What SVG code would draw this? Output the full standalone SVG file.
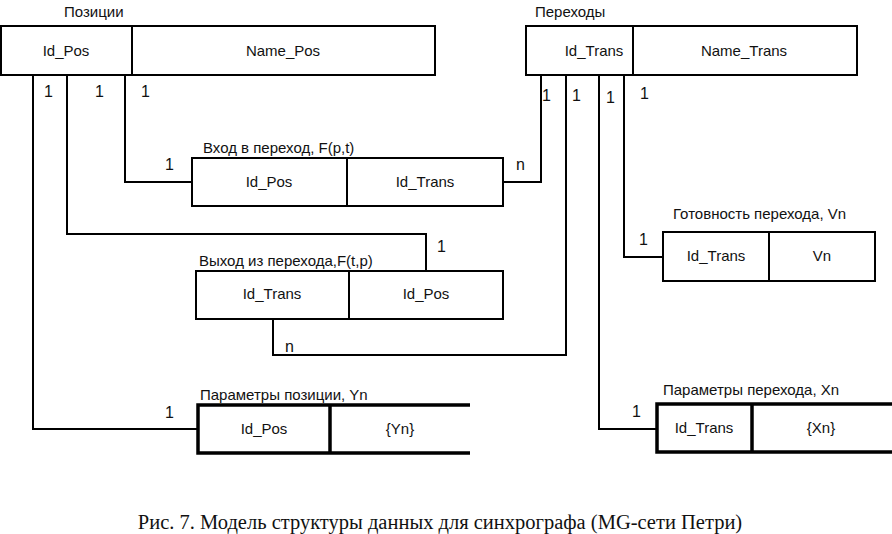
<svg xmlns="http://www.w3.org/2000/svg" width="892" height="534" viewBox="0 0 892 534">
<style>
.box{fill:#fff;stroke:#000;stroke-width:2}
.thick{fill:none;stroke:#000;stroke-width:3.5}
.conn{fill:none;stroke:#000;stroke-width:2}
.t{font-family:"Liberation Sans",Arial,sans-serif;font-size:15px;fill:#111}
.n{font-size:16px}
.c{text-anchor:middle}
.cap{font-family:"Liberation Serif","Times New Roman",serif;font-size:20.5px;fill:#111}
</style>
<rect width="892" height="534" fill="#fff"/>
<g id="connectors">
<polyline class="conn" points="33,75 33,429 198,429"/>
<polyline class="conn" points="67,75 67,234 426,234 426,271"/>
<polyline class="conn" points="125,75 125,182 192,182"/>
<polyline class="conn" points="541,75 541,182 503,182"/>
<polyline class="conn" points="566,75 566,355 273,355 273,319"/>
<polyline class="conn" points="599,75 599,429 657,429"/>
<polyline class="conn" points="624,75 624,257 663,257"/>
<text class="t n" x="44" y="97">1</text>
<text class="t n" x="95" y="97">1</text>
<text class="t n" x="141" y="97">1</text>
<text class="t n" x="165" y="170">1</text>
<text class="t n" x="516" y="170">n</text>
<text class="t n" x="542" y="101">1</text>
<text class="t n" x="572" y="101">1</text>
<text class="t n" x="606" y="103">1</text>
<text class="t n" x="640" y="99">1</text>
<text class="t n" x="437" y="252">1</text>
<text class="t n" x="285" y="352">n</text>
<text class="t n" x="165" y="418">1</text>
<text class="t n" x="632" y="417">1</text>
<text class="t n" x="639" y="245">1</text>
</g>
<g id="positions">
<text class="t" x="64" y="17">Позиции</text>
<rect class="box" x="1" y="26" width="434" height="49"/>
<line class="conn" x1="132" y1="26" x2="132" y2="75"/>
<text class="t c" x="66" y="56">Id_Pos</text>
<text class="t c" x="283" y="56">Name_Pos</text>
</g>
<g id="transitions">
<text class="t" x="535" y="17">Переходы</text>
<rect class="box" x="526" y="26" width="331" height="49"/>
<line class="conn" x1="633" y1="26" x2="633" y2="75"/>
<text class="t c" x="594" y="56">Id_Trans</text>
<text class="t c" x="744" y="56">Name_Trans</text>
</g>
<g id="input">
<text class="t" x="203" y="153">Вход в переход, F(p,t)</text>
<rect class="box" x="192" y="158" width="311" height="48"/>
<line class="conn" x1="347" y1="158" x2="347" y2="206"/>
<text class="t c" x="269" y="187">Id_Pos</text>
<text class="t c" x="425" y="187">Id_Trans</text>
</g>
<g id="output">
<text class="t" x="199" y="266">Выход из перехода,F(t,p)</text>
<rect class="box" x="196" y="271" width="307" height="48"/>
<line class="conn" x1="349" y1="271" x2="349" y2="319"/>
<text class="t c" x="272" y="299">Id_Trans</text>
<text class="t c" x="426" y="299">Id_Pos</text>
</g>
<g id="readiness">
<text class="t" x="673" y="219">Готовность перехода, Vn</text>
<rect class="box" x="663" y="232" width="212" height="49"/>
<line class="conn" x1="769" y1="232" x2="769" y2="281"/>
<text class="t c" x="716" y="261">Id_Trans</text>
<text class="t c" x="822" y="261">Vn</text>
</g>
<g id="posparams">
<text class="t" x="200" y="400">Параметры позиции, Yn</text>
<polyline class="thick" points="470,405 198,405 198,453 470,453"/>
<line class="thick" x1="330" y1="405" x2="330" y2="453"/>
<text class="t c" x="264" y="434">Id_Pos</text>
<text class="t c" x="400" y="434">{Yn}</text>
</g>
<g id="transparams">
<text class="t" x="663" y="395">Параметры перехода, Xn</text>
<polyline class="thick" points="892,404 657,404 657,452 892,452"/>
<line class="thick" x1="752" y1="404" x2="752" y2="452"/>
<text class="t c" x="704" y="433">Id_Trans</text>
<text class="t c" x="821" y="433">{Xn}</text>
</g>
<text class="cap c" x="440" y="529">Рис. 7. Модель структуры данных для синхрографа (MG-сети Петри)</text>
</svg>
